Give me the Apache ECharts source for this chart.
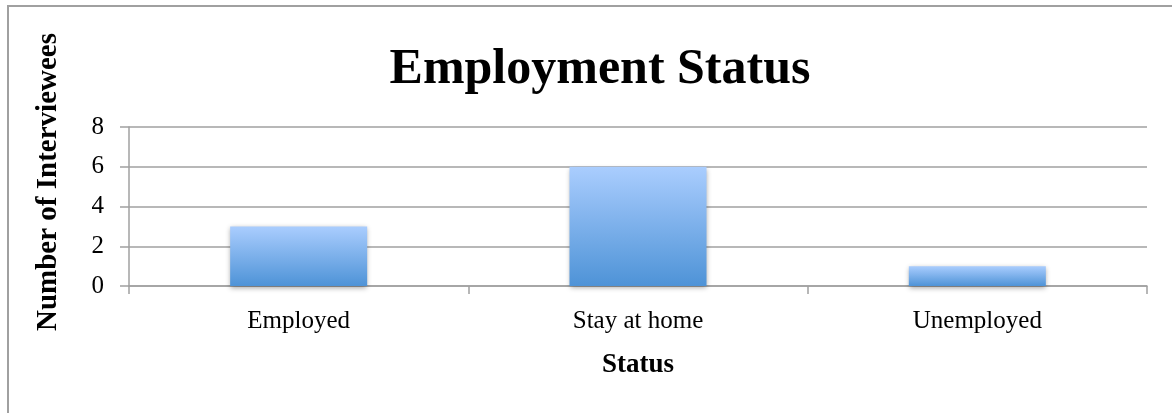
<!DOCTYPE html>
<html>
<head>
<meta charset="utf-8">
<script src="https://cdn.jsdelivr.net/npm/echarts@6/dist/echarts.min.js"></script>
<style>
    html, body { margin: 0; padding: 0; background: #fff; }
    #chart { width: 1172px; height: 413px; }
</style>
</head>
<body>
<div id="chart"></div>
<script>
// 数据部分
var categories = ['Employed', 'Stay at home', 'Unemployed'];
var interviewees = [3, 6, 1];
var chartTitle = 'Employment Status';
var xAxisName = 'Status';
var yAxisName = 'Number of Interviewees';

var FONT = '"Liberation Serif", "DejaVu Serif", serif';
var GRID_COLOR = '#a0a0a0';

var chart = echarts.init(document.getElementById('chart'));

var option = {
    backgroundColor: '#fff',
    animation: false,
    title: {
        text: chartTitle,
        left: 595,
        top: 40,
        textAlign: 'center',
        textStyle: {
            fontFamily: FONT,
            fontWeight: 'bold',
            fontSize: 50,
            color: '#000'
        }
    },
    grid: {
        left: 129,
        right: 25,
        top: 127,
        bottom: 127
    },
    xAxis: {
        type: 'category',
        data: categories,
        name: xAxisName,
        nameLocation: 'middle',
        nameGap: 66,
        nameTextStyle: {
            fontFamily: FONT,
            fontWeight: 'bold',
            fontSize: 27,
            color: '#000'
        },
        axisLine: { lineStyle: { color: GRID_COLOR, width: 1.5 } },
        axisTick: { show: true, length: 8, lineStyle: { color: GRID_COLOR, width: 1.5 } },
        axisLabel: {
            margin: 23,
            fontFamily: FONT,
            fontSize: 25,
            color: '#000'
        }
    },
    yAxis: {
        type: 'value',
        min: 0,
        max: 8,
        interval: 2,
        axisLine: { show: true, lineStyle: { color: GRID_COLOR, width: 1.5 } },
        axisTick: { show: true, length: 9, lineStyle: { color: GRID_COLOR, width: 1.5 } },
        axisLabel: {
            margin: 25,
            fontFamily: FONT,
            fontSize: 25,
            color: '#000'
        },
        splitLine: { lineStyle: { color: GRID_COLOR, width: 1.5 } }
    },
    series: [{
        type: 'bar',
        data: interviewees,
        barWidth: 137,
        itemStyle: {
            color: new echarts.graphic.LinearGradient(0, 0, 0, 1, [
                { offset: 0, color: '#aacdfe' },
                { offset: 1, color: '#4e93d7' }
            ]),
            shadowColor: 'rgba(0,0,0,0.35)',
            shadowBlur: 5,
            shadowOffsetY: 2
        }
    }],
    graphic: [
        {
            type: 'rect',
            shape: { x: 8, y: 6, width: 1400, height: 700 },
            style: { fill: 'none', stroke: '#a0a0a0', lineWidth: 2 },
            silent: true
        },
        {
            type: 'text',
            x: 49,
            y: 182,
            rotation: Math.PI / 2,
            style: {
                text: yAxisName,
                font: 'bold 29px ' + FONT,
                fill: '#000',
                align: 'center',
                verticalAlign: 'middle'
            }
        }
    ]
};

chart.setOption(option);
</script>
</body>
</html>
